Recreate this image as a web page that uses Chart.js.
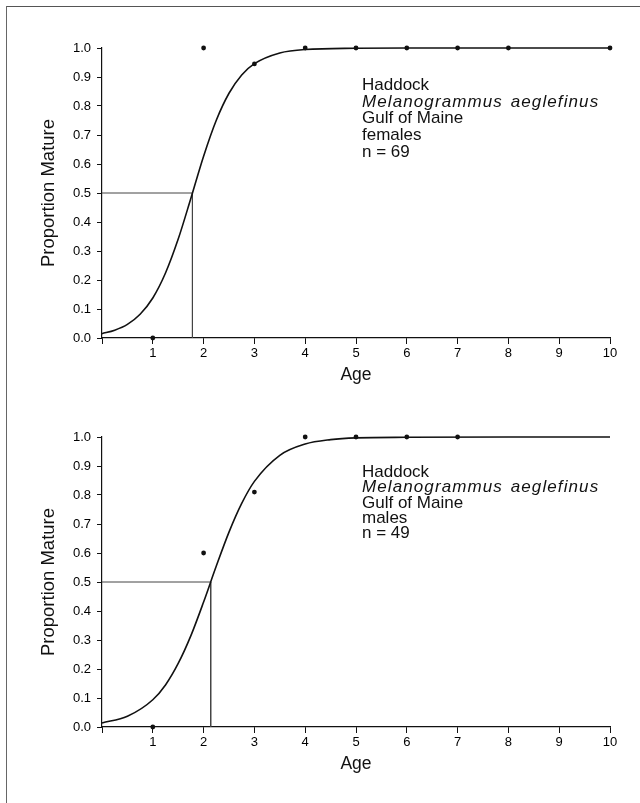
<!DOCTYPE html>
<html>
<head>
<meta charset="utf-8">
<script src="https://cdn.jsdelivr.net/npm/chart.js@4.4.1/dist/chart.umd.min.js"></script>
<style>
  html, body { margin: 0; padding: 0; background: #fff; }
  #page { position: relative; width: 640px; height: 803px; overflow: hidden; font-family: 'Liberation Sans', Arial, sans-serif; }
  .frame-top { position: absolute; left: 6px; top: 6px; width: 640px; height: 0; border-top: 1.5px solid #555; }
  .frame-left { position: absolute; left: 6px; top: 6px; width: 0; height: 800px; border-left: 1.5px solid #666; }
  .box { position: absolute; left: 0; width: 640px; height: 389px; }
  .note { position: absolute; left: 362px; font-size: 17px; line-height: 16.7px; color: #111; }
  .note i { letter-spacing: 1.1px; word-spacing: 2px; }
</style>
</head>
<body>
<div id="page">
  <div class="frame-top"></div>
  <div class="frame-left"></div>
  <div class="box" style="top:0"><canvas id="females" width="640" height="389"></canvas></div>
  <div class="box" style="top:389px"><canvas id="males" width="640" height="389"></canvas></div>
  <div class="note" style="top:77px">Haddock<br><i>Melanogrammus aeglefinus</i><br>Gulf of Maine<br>females<br>n = 69</div>
  <div class="note" style="top:464px; line-height:15.3px">Haddock<br><i>Melanogrammus aeglefinus</i><br>Gulf of Maine<br>males<br>n = 49</div>
</div>
<script>
// observed proportions mature by age
const femaleAges = [1, 2, 3, 4, 5, 6, 7, 8, 10];
const femaleObs = [0.0, 1.0, 0.945, 1.0, 1.0, 1.0, 1.0, 1.0, 1.0];
const maleAges = [1, 2, 3, 4, 5, 6, 7];
const maleObs = [0.0, 0.6, 0.81, 1.0, 1.0, 1.0, 1.0];

// fitted curves
const femaleCurveAges = [0, 0.25, 0.5, 0.75, 1, 1.25, 1.5, 1.75, 2, 2.25, 2.5, 2.75, 3, 3.5, 4, 5, 6, 8, 10];
const femaleCurve = [0.015, 0.027, 0.047, 0.082, 0.138, 0.224, 0.341, 0.482, 0.627, 0.751, 0.844, 0.907, 0.946, 0.983, 0.995, 0.999, 1.0, 1.0, 1.0];
const maleCurveAges = [0, 0.5, 1, 1.25, 1.5, 1.75, 2, 2.25, 2.5, 2.75, 3, 3.5, 4, 4.5, 5, 6, 8, 10];
const maleCurve = [0.014, 0.037, 0.094, 0.145, 0.219, 0.315, 0.431, 0.555, 0.672, 0.771, 0.847, 0.937, 0.976, 0.991, 0.997, 0.999, 1.0, 1.0];

// age at 50% maturity
const femaleA50 = 1.78;
const maleA50 = 2.14;

const ink = '#111';

function pts(xs, ys) {
  return xs.map((x, i) => ({ x: x, y: ys[i] }));
}

function makeChart(id, ages, obs, curveAges, curve, a50) {
  const ctx = document.getElementById(id).getContext('2d');
  return new Chart(ctx, {
    type: 'scatter',
    data: {
      datasets: [
        {
          data: pts(curveAges, curve),
          showLine: true,
          borderColor: ink,
          borderWidth: 1.6,
          pointRadius: 0,
          cubicInterpolationMode: 'monotone',
          clip: false,
        },
        {
          data: [{ x: 0, y: 0.5 }, { x: a50, y: 0.5 }, { x: a50, y: 0 }],
          showLine: true,
          borderColor: '#444',
          borderWidth: 1,
          pointRadius: 0,
        },
        {
          data: pts(ages, obs),
          pointRadius: 2.4,
          pointBackgroundColor: ink,
          pointBorderWidth: 0,
          clip: false,
        },
      ],
    },
    options: {
      responsive: false,
      animation: false,
      events: [],
      layout: { padding: { left: 38, right: 30, top: 48, bottom: 0 } },
      plugins: { legend: { display: false }, tooltip: { enabled: false } },
      scales: {
        x: {
          type: 'linear',
          min: 0,
          max: 10,
          afterFit: (s) => { s.height = 51; },
          grid: { drawOnChartArea: false, drawTicks: true, tickLength: 6, color: ink },
          border: { display: true, color: ink, width: 1.2 },
          ticks: {
            stepSize: 1,
            color: '#000',
            padding: 2,
            maxRotation: 0,
            font: { family: 'Liberation Sans', size: 13 },
            callback: (v) => (v === 0 ? '' : v),
          },
          title: {
            display: true,
            text: 'Age',
            color: ink,
            padding: { top: 0, bottom: 3 },
            font: { family: 'Liberation Sans', size: 17.5 },
          },
        },
        y: {
          min: 0,
          max: 1,
          afterFit: (s) => { s.width = 64; },
          grid: { drawOnChartArea: false, drawTicks: true, tickLength: 5, color: ink },
          border: { display: true, color: ink, width: 1.2 },
          ticks: {
            stepSize: 0.1,
            color: '#000',
            padding: 6,
            font: { family: 'Liberation Sans', size: 13 },
            callback: (v) => v.toFixed(1),
          },
          title: {
            display: true,
            text: 'Proportion Mature',
            color: ink,
            padding: { top: 0, bottom: 0 },
            font: { family: 'Liberation Sans', size: 18.5 },
          },
        },
      },
    },
  });
}

makeChart('females', femaleAges, femaleObs, femaleCurveAges, femaleCurve, femaleA50);
makeChart('males', maleAges, maleObs, maleCurveAges, maleCurve, maleA50);
</script>
</body>
</html>
